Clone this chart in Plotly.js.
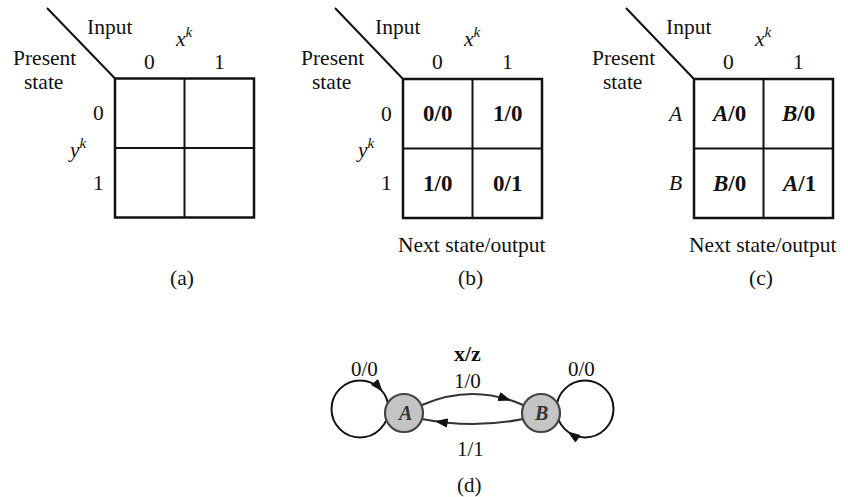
<!DOCTYPE html>
<html><head><meta charset="utf-8">
<script src="https://cdn.plot.ly/plotly-3.0.1.min.js"></script>
<style>html,body{margin:0;padding:0;background:#fff;}#chart{width:848px;height:497px;}</style>
</head><body><div id="chart"></div>
<script>
// ---- data ----
const panelTags = ['(a)', '(b)', '(c)'];
const colLabels = ['0', '1'];
const rowLabelsNum = ['0', '1'];
const rowLabelsState = ['A', 'B'];
const cellsA = [['', ''], ['', '']];
const cellsB = [['0/0', '1/0'], ['1/0', '0/1']];
const cellsC = [['A/0', 'B/0'], ['B/0', 'A/1']];
const captionTable = 'Next state/output';
const states = ['A', 'B'];
const transFrom = ['A', 'A', 'B', 'B'];
const transTo = ['A', 'B', 'B', 'A'];
const transLabel = ['0/0', '1/0', '0/0', '1/1'];
const edgeHeader = 'x/z';
const diagramTag = '(d)';

// ---- layout constants ----
const W = 848, H = 497;
const SERIF = 'Liberation Serif, Times New Roman, serif';
const INK = '#111';
const CELL = 69.5;
const FS = 21.5, FCELL = 23, FDIAG = 21;
const tables = [
  {L: 115, T: 78.5, cells: cellsA, rows: rowLabelsNum, italicRows: false, caption: false, yk: true},
  {L: 403, T: 79, cells: cellsB, rows: rowLabelsNum, italicRows: false, caption: true, yk: true},
  {L: 694, T: 79, cells: cellsC, rows: rowLabelsState, italicRows: true, caption: true, yk: false}
];
const nodePos = {A: [404, 413], B: [541, 413]};
const NODE_R = 19;

const shapes = [];
const annotations = [];
function ann(x, y, text, size, extra) {
  annotations.push(Object.assign({x: x, y: y, xref: 'x', yref: 'y', text: text, showarrow: false,
    xanchor: 'center', yanchor: 'middle', font: {family: SERIF, size: size, color: INK}}, extra || {}));
}
function line(x0, y0, x1, y1, w) {
  shapes.push({type: 'line', xref: 'x', yref: 'y', x0: x0, y0: y0, x1: x1, y1: y1, line: {color: INK, width: w}});
}
function arrowHead(tip, d) {
  const len = Math.hypot(d[0], d[1]); const ux = d[0] / len, uy = d[1] / len;
  const bx = tip[0] - 11 * ux, by = tip[1] - 11 * uy;
  const nx = -uy, ny = ux;
  shapes.push({type: 'path', xref: 'x', yref: 'y',
    path: `M ${tip[0]} ${tip[1]} L ${bx + 4 * nx} ${by + 4 * ny} L ${bx - 4 * nx} ${by - 4 * ny} Z`,
    fillcolor: INK, line: {color: INK, width: 1}});
}

// ---- tables ----
tables.forEach((t, i) => {
  const L = t.L, T = t.T;
  line(L - 68, 8, L, T, 2);
  shapes.push({type: 'rect', xref: 'x', yref: 'y', x0: L, y0: T, x1: L + 2 * CELL, y1: T + 2 * CELL,
    line: {color: INK, width: 2.5}});
  line(L + CELL, T, L + CELL, T + 2 * CELL, 2);
  line(L, T + CELL, L + 2 * CELL, T + CELL, 2);
  ann(L - 6, 27, 'Input', FS);
  ann(L + 69, 37, '<i>x</i><sup><i>k</i></sup>', FS);
  ann(L - 71, 58, 'Present', FS);
  ann(L - 72, 82, 'state', FS);
  colLabels.forEach((c, j) => ann(L + CELL * (j + 0.5), 62, c, FS));
  t.rows.forEach((r, j) => {
    const y = T + CELL * (j + 0.5);
    ann(t.italicRows ? L - 19 : L - 17, y, t.italicRows ? '<i>' + r + '</i>' : r, FS);
  });
  if (t.yk) ann(L - 38, T + CELL, '<i>y</i><sup><i>k</i></sup>', FS);
  t.cells.forEach((row, r) => row.forEach((txt, c) => {
    if (!txt) return;
    const styled = t.italicRows ? '<b><i>' + txt[0] + '</i>' + txt.slice(1) + '</b>' : '<b>' + txt + '</b>';
    ann(L + CELL * (c + 0.5), T + CELL * (r + 0.5), styled, FCELL);
  }));
  if (t.caption) ann(L + 69, 245, captionTable, FS);
  ann(L + 67, 278, panelTags[i], FS);
});

// ---- state diagram ----
transFrom.forEach((f, k) => {
  const to = transTo[k];
  const P = nodePos[f];
  if (f === to) {
    const side = f === 'A' ? -1 : 1;
    const cx = P[0] + side * 44, cy = P[1] - 4, r = 28.5;
    shapes.push({type: 'circle', xref: 'x', yref: 'y', x0: cx - r, y0: cy - r, x1: cx + r, y1: cy + r,
      line: {color: INK, width: 2}});
    const th = (f === 'A' ? -40 : 125) * Math.PI / 180;
    arrowHead([cx + r * Math.cos(th), cy + r * Math.sin(th)], [-Math.sin(th), Math.cos(th)]);
    ann(cx - side * 4, 369, transLabel[k], FDIAG);
  } else {
    const Q = nodePos[to];
    const up = P[0] < Q[0];
    const y0 = up ? P[1] - 8 : P[1] + 6;
    const x0 = up ? P[0] + 18 : P[0] - 18;
    const x2 = up ? Q[0] - 18 : Q[0] + 18;
    const cxp = (x0 + x2) / 2, cyp = up ? y0 - 22 : y0 + 10;
    shapes.push({type: 'path', xref: 'x', yref: 'y', path: `M ${x0} ${y0} Q ${cxp} ${cyp} ${x2} ${y0}`,
      line: {color: '#333', width: 2.2}});
    const tt = up ? 0.87 : 0.86;
    const px = (1 - tt) * (1 - tt) * x0 + 2 * (1 - tt) * tt * cxp + tt * tt * x2;
    const py = (1 - tt) * (1 - tt) * y0 + 2 * (1 - tt) * tt * cyp + tt * tt * y0;
    const dx = 2 * (1 - tt) * (cxp - x0) + 2 * tt * (x2 - cxp);
    const dy = 2 * (1 - tt) * (cyp - y0) + 2 * tt * (y0 - cyp);
    arrowHead([px, py], [dx, dy]);
    ann(up ? 467 : 470, up ? 381 : 449, transLabel[k], FDIAG);
  }
});
states.forEach(s => {
  const P = nodePos[s];
  shapes.push({type: 'circle', xref: 'x', yref: 'y', x0: P[0] - NODE_R, y0: P[1] - NODE_R,
    x1: P[0] + NODE_R, y1: P[1] + NODE_R, fillcolor: '#c4c4c4', line: {color: '#444', width: 2.2}});
  ann(P[0], P[1], '<b><i>' + s + '</i></b>', 20, {font: {family: SERIF, size: 20, color: '#333'}});
});
ann(467, 353, '<b>' + edgeHeader + '</b>', 22);
ann(469, 485, diagramTag, 21, {borderpad: 0});

const layout = {
  width: W, height: H, margin: {l: 0, r: 0, t: 0, b: 0},
  paper_bgcolor: '#fff', plot_bgcolor: '#fff', showlegend: false,
  xaxis: {range: [0, W], visible: false, fixedrange: true},
  yaxis: {range: [H, 0], visible: false, fixedrange: true},
  shapes: shapes, annotations: annotations
};
Plotly.newPlot('chart', [{x: [], y: [], type: 'scatter', mode: 'markers'}], layout, {staticPlot: true, displayModeBar: false});
</script></body></html>
